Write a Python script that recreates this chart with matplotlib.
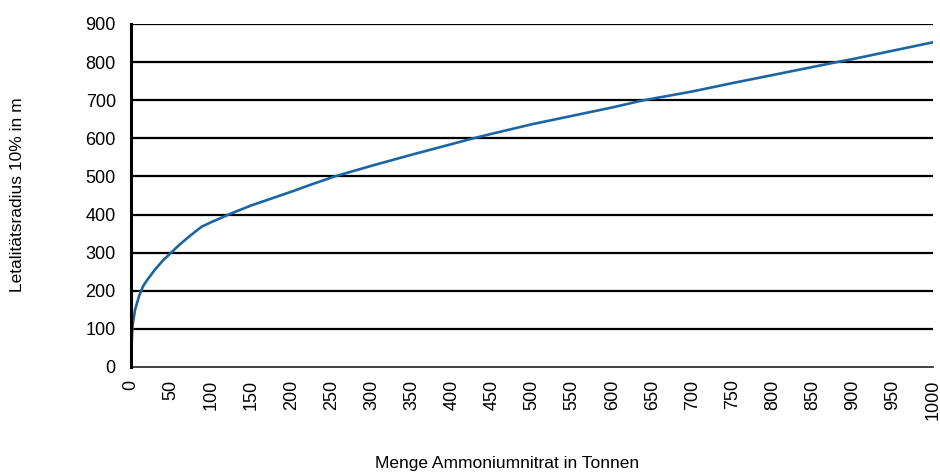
import matplotlib
matplotlib.use("Agg")
import matplotlib.pyplot as plt

plt.rcParams['font.family'] = ['Liberation Sans', 'DejaVu Sans']

# Data
mass_t = [0, 1, 2, 5, 10, 15, 20, 25, 30, 40, 50, 60, 70, 80, 88, 100, 125, 150, 175,
          200, 225, 254, 300, 350, 400, 423, 450, 500, 550, 600, 637, 700, 750, 800,
          880, 900, 950, 1000]
radius_m = [0, 75, 110, 150, 186, 212, 228, 242, 256, 280, 300, 320, 338, 355, 368, 380,
            403, 424, 442, 460, 479, 500, 528, 557, 585, 598, 612, 637, 659, 681, 699,
            723, 745, 766, 800, 808, 830, 852]
x_ticks = list(range(0, 1001, 50))
y_ticks = list(range(0, 901, 100))

fig = plt.figure(figsize=(9.4, 4.75), dpi=100)
ax = fig.add_axes([0.1394, 0.2274, 0.8532, 0.7221])

for y in y_ticks[1:]:
    ax.axhline(y, color='black', lw=1.6, zorder=1)
ax.plot(mass_t, radius_m, color='#1a66a3', lw=1.9, zorder=3,
        solid_joinstyle='round', solid_capstyle='round')

ax.set_xlim(0, 1000)
ax.set_ylim(0, 900)
ax.set_xticks(x_ticks)
ax.set_xticklabels([str(v) for v in x_ticks], rotation=90, fontsize=13)
ax.set_yticks(y_ticks)
ax.set_yticklabels([str(v) for v in y_ticks], fontsize=13)
ax.tick_params(axis='both', length=0)
ax.tick_params(axis='y', pad=11)
ax.tick_params(axis='x', pad=9)

for s in ['top', 'right']:
    ax.spines[s].set_visible(False)
ax.spines['left'].set_linewidth(2.2)
ax.spines['left'].set_color('black')
ax.spines['bottom'].set_linewidth(1.2)
ax.spines['bottom'].set_color('#222222')
ax.spines['left'].set_zorder(4)

fig.text(0.019, 0.59, 'Letalitätsradius 10% in m', rotation=90, ha='center', va='center', fontsize=12.5)
fig.text(0.539, 0.025, 'Menge Ammoniumnitrat in Tonnen', ha='center', va='center', fontsize=12.5)

fig.savefig('out.png', dpi=100)
